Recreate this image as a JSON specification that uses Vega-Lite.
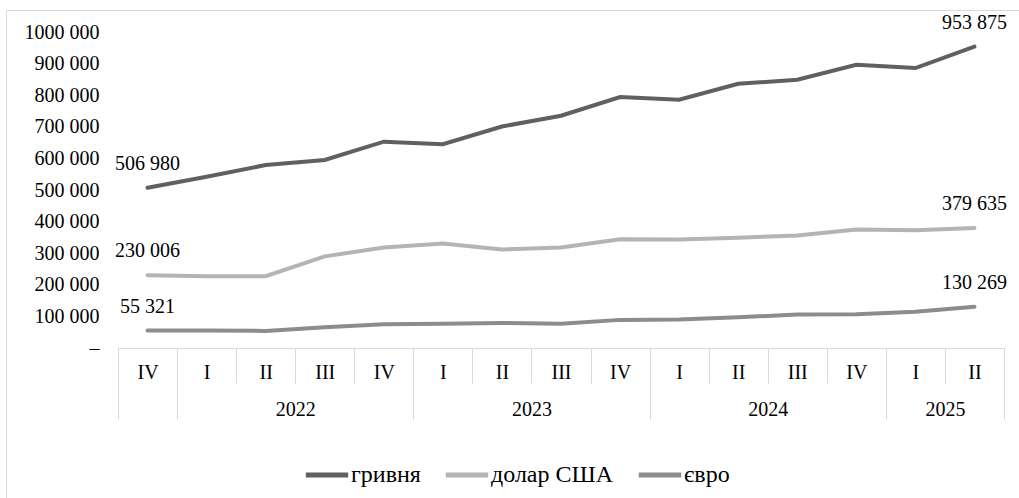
{
  "$schema": "https://vega.github.io/schema/vega-lite/v6.json",
  "width": 1013,
  "height": 488,
  "autosize": {"type": "none"},
  "padding": {"left": 6, "top": 10, "right": 0, "bottom": 0},
  "background": "white",
  "config": {
    "font": "Liberation Serif",
    "view": {"stroke": "#d9d9d9", "strokeWidth": 1},
    "locale": {"number": {"decimal": ",", "thousands": " ", "grouping": [3], "currency": ["", ""]}}
  },
  "data": {
    "values": [
      {"period": "2021-IV", "series": "гривня", "value": 506980},
      {"period": "2022-I", "series": "гривня", "value": 542000},
      {"period": "2022-II", "series": "гривня", "value": 579000},
      {"period": "2022-III", "series": "гривня", "value": 595000},
      {"period": "2022-IV", "series": "гривня", "value": 653000},
      {"period": "2023-I", "series": "гривня", "value": 645000},
      {"period": "2023-II", "series": "гривня", "value": 701000},
      {"period": "2023-III", "series": "гривня", "value": 735000},
      {"period": "2023-IV", "series": "гривня", "value": 794000},
      {"period": "2024-I", "series": "гривня", "value": 786000},
      {"period": "2024-II", "series": "гривня", "value": 836000},
      {"period": "2024-III", "series": "гривня", "value": 849000},
      {"period": "2024-IV", "series": "гривня", "value": 896000},
      {"period": "2025-I", "series": "гривня", "value": 886000},
      {"period": "2025-II", "series": "гривня", "value": 953875},
      {"period": "2021-IV", "series": "долар США", "value": 230006},
      {"period": "2022-I", "series": "долар США", "value": 227000},
      {"period": "2022-II", "series": "долар США", "value": 227000},
      {"period": "2022-III", "series": "долар США", "value": 290000},
      {"period": "2022-IV", "series": "долар США", "value": 318000},
      {"period": "2023-I", "series": "долар США", "value": 331000},
      {"period": "2023-II", "series": "долар США", "value": 312000},
      {"period": "2023-III", "series": "долар США", "value": 318000},
      {"period": "2023-IV", "series": "долар США", "value": 344000},
      {"period": "2024-I", "series": "долар США", "value": 343000},
      {"period": "2024-II", "series": "долар США", "value": 349000},
      {"period": "2024-III", "series": "долар США", "value": 356000},
      {"period": "2024-IV", "series": "долар США", "value": 375000},
      {"period": "2025-I", "series": "долар США", "value": 373000},
      {"period": "2025-II", "series": "долар США", "value": 379635},
      {"period": "2021-IV", "series": "євро", "value": 55321},
      {"period": "2022-I", "series": "євро", "value": 55500},
      {"period": "2022-II", "series": "євро", "value": 54000},
      {"period": "2022-III", "series": "євро", "value": 66000},
      {"period": "2022-IV", "series": "євро", "value": 75000},
      {"period": "2023-I", "series": "євро", "value": 77000},
      {"period": "2023-II", "series": "євро", "value": 79000},
      {"period": "2023-III", "series": "євро", "value": 77000},
      {"period": "2023-IV", "series": "євро", "value": 89000},
      {"period": "2024-I", "series": "євро", "value": 90000},
      {"period": "2024-II", "series": "євро", "value": 97000},
      {"period": "2024-III", "series": "євро", "value": 106000},
      {"period": "2024-IV", "series": "євро", "value": 107000},
      {"period": "2025-I", "series": "євро", "value": 115000},
      {"period": "2025-II", "series": "євро", "value": 130269}
    ]
  },
  "layer": [
    {
      "mark": {"type": "line", "strokeWidth": 4, "strokeCap": "round"},
      "encoding": {
        "x": {
          "field": "period", "type": "nominal", "sort": null, "bandPosition": 0.5,
          "scale": {"type": "band", "paddingInner": 0, "paddingOuter": 0, "range": [112, 998]},
          "axis": {
            "title": null, "orient": "bottom", "offset": -150, "tickBand": "extent", "tickSize": 35,
            "tickColor": "#d9d9d9", "tickWidth": 1, "domainColor": "#d9d9d9", "domainWidth": 1,
            "labelAngle": 0, "labelExpr": "split(datum.value, '-')[1]",
            "labelFontSize": 20, "labelColor": "black", "labelBaseline": "middle", "labelPadding": -11,
            "labelFont": "Liberation Serif"
          }
        },
        "y": {
          "field": "value", "type": "quantitative",
          "scale": {"domain": [0, 1000000], "nice": false, "range": [338, 22]},
          "axis": {
            "title": null, "orient": "left", "offset": -112, "domain": false, "ticks": false, "grid": false,
            "values": [0, 100000, 200000, 300000, 400000, 500000, 600000, 700000, 800000, 900000, 1000000],
            "labelExpr": "datum.value == 0 ? '–' : (datum.value / 1000) + ' 000'",
            "labelOverlap": false, "labelBound": false,
            "labelPadding": 19, "labelFontSize": 20, "labelColor": "black", "labelFont": "Liberation Serif"
          }
        },
        "color": {
          "field": "series", "type": "nominal",
          "scale": {"domain": ["гривня", "долар США", "євро"], "range": ["#606060", "#b4b4b4", "#8c8c8c"]},
          "legend": {
            "orient": "none", "legendX": 297, "legendY": 441, "direction": "horizontal", "title": null,
            "symbolType": "stroke", "symbolStrokeWidth": 5, "symbolSize": 1800,
            "labelFontSize": 24, "labelColor": "black", "labelFont": "Liberation Serif",
            "labelOffset": 0, "columnPadding": 14
          }
        }
      }
    },
    {
      "transform": [{"filter": "datum.period == '2021-IV' || datum.period == '2025-II'"}],
      "mark": {"type": "text", "dy": -24, "fontSize": 20, "color": "black", "font": "Liberation Serif", "align": "center", "baseline": "middle"},
      "encoding": {
        "x": {
          "field": "period", "type": "nominal", "sort": null, "bandPosition": 0.5,
          "axis": {
            "title": null, "orient": "bottom", "offset": -150, "tickBand": "extent", "tickSize": 71,
            "tickColor": "#d9d9d9", "tickWidth": 1,
            "tickOpacity": {"condition": {"test": "datum.extra || indexof(['2021-IV','2022-IV','2023-IV','2024-IV','2025-II'], datum.value) >= 0", "value": 1}, "value": 0},
            "domain": false, "labelAngle": 0,
            "labelExpr": "indexof(['2022-II','2023-II','2024-II','2025-I'], datum.value) >= 0 ? split(datum.value, '-')[0] : ''",
            "labelOffset": 29.5, "labelFontSize": 20, "labelColor": "black", "labelBaseline": "middle", "labelPadding": -10,
            "labelFont": "Liberation Serif"
          }
        },
        "y": {"field": "value", "type": "quantitative"},
        "text": {"field": "value", "type": "quantitative", "format": ",d"}
      }
    }
  ],
  "resolve": {"axis": {"x": "independent"}}
}
